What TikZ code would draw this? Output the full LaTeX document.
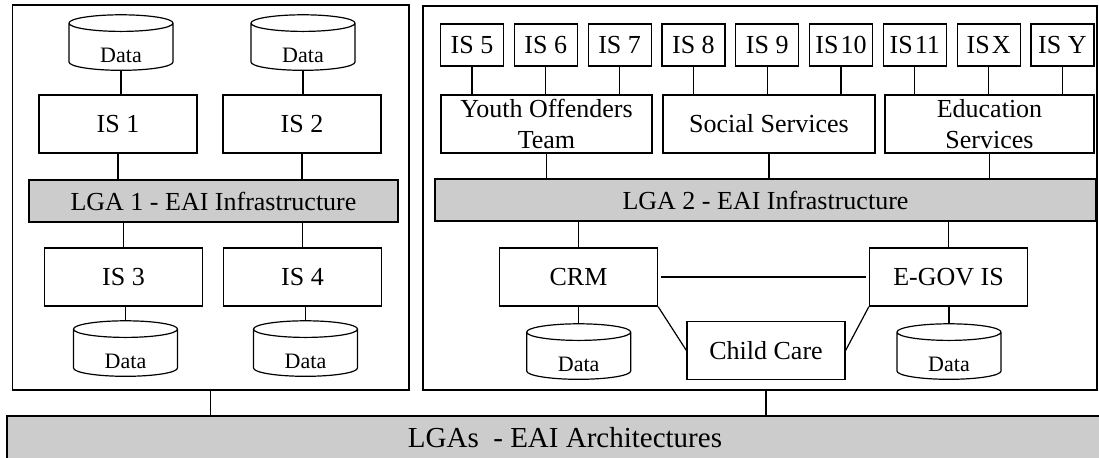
\documentclass[tikz,border=0pt]{standalone}
\usepackage{fontspec}
\setmainfont{Liberation Serif}
\usetikzlibrary{shapes.geometric}

\begin{document}
\begin{tikzpicture}[x=0.5pt,y=-0.5pt,line width=0.6pt,
  every node/.style={draw,rectangle,inner sep=0pt,font=\fontsize{13}{15.5}\selectfont},
  isbox/.style={minimum width=79pt,minimum height=29pt},
  smallis/.style={minimum width=31.5pt,minimum height=21pt},
  grp/.style={minimum height=29pt,align=center},
  eaibar/.style={fill=gray!40,minimum height=21pt},
  datab/.style={cylinder,shape border rotate=90,aspect=0.4,minimum width=52pt,minimum height=20pt,
    text height=15pt,text depth=0pt,font=\fontsize{11}{12}\selectfont}]

\useasboundingbox (0,0) rectangle (1099,457);

\node[minimum width=198.15pt,minimum height=192.5pt] (lbox) at (210.85,197.5) {};
\node[minimum width=337pt,minimum height=192pt] (rbox) at (760,198) {};
\node[eaibar,minimum width=558pt,minimum height=21.5pt,font=\fontsize{14.5}{17}\selectfont] (lgas) at (565,437.5) {LGAs\ \ - EAI Architectures};

\node[datab] (d1) at (121,47) {Data};
\node[datab] (d2) at (303,47) {Data};
\node[isbox] (is1) at (118,124) {IS 1};
\node[isbox] (is2) at (302,124) {IS 2};
\node[eaibar,minimum width=184.5pt] (lga1) at (213.5,201) {LGA 1 - EAI Infrastructure};
\node[isbox] (is3) at (123.5,277) {IS 3};
\node[isbox] (is4) at (302.5,277) {IS 4};
\node[datab] (d3) at (125.5,353) {Data};
\node[datab] (d4) at (305.5,353) {Data};

\foreach \n/\t [count=\i from 0] in {5/{IS 5},6/{IS 6},7/{IS 7},8/{IS 8},9/{IS 9},10/{IS\kern1pt10},11/{IS\kern1pt11},x/{IS\kern1pt X},y/{IS Y}}
	\node[smallis] (is\n) at ({472+73.8*\i},45) {\t};
\node[grp,minimum width=105.5pt] (yot) at (546.5,124) {Youth Offenders\\Team};
\node[grp,minimum width=106pt] (soc) at (769,124) {Social Services};
\node[grp,minimum width=104.5pt] (edu) at (989.5,124) {Education\\Services};
\node[eaibar,minimum width=330.5pt] (lga2) at (765.5,200) {LGA 2 - EAI Infrastructure};
\node[isbox] (crm) at (578.5,277) {CRM};
\node[isbox] (egov) at (948.5,277) {E-GOV IS};
\node[isbox] (cc) at (766,350.5) {Child Care};
\node[datab] (d5) at (578.7,356) {Data};
\node[datab] (d6) at (949,356) {Data};

\foreach \a/\b in {d1/is1,d2/is2,is1/lga1,is2/lga1,is5/yot,is6/yot,is7/yot,is8/soc,is9/soc,is10/soc,is11/edu,isx/edu,isy/edu,yot/lga2,soc/lga2,edu/lga2}
	\draw (\a.south) -- (\a.south |- \b.north);
\foreach \a/\b in {is3/lga1,is4/lga1,crm/lga2,egov/lga2,d3/is3,d4/is4,d5/crm,d6/egov}
	\draw (\a.north) -- (\a.north |- \b.south);
\draw[shorten <=1.5pt,shorten >=1.5pt] (crm.east) -- (egov.west);
\draw (crm.south east) -- (cc.west);
\draw (egov.south west) -- (cc.east);
\draw (lbox.south) -- (lbox.south |- lgas.north);
\draw (cc |- rbox.south) -- (cc |- lgas.north);
\end{tikzpicture}
\end{document}
